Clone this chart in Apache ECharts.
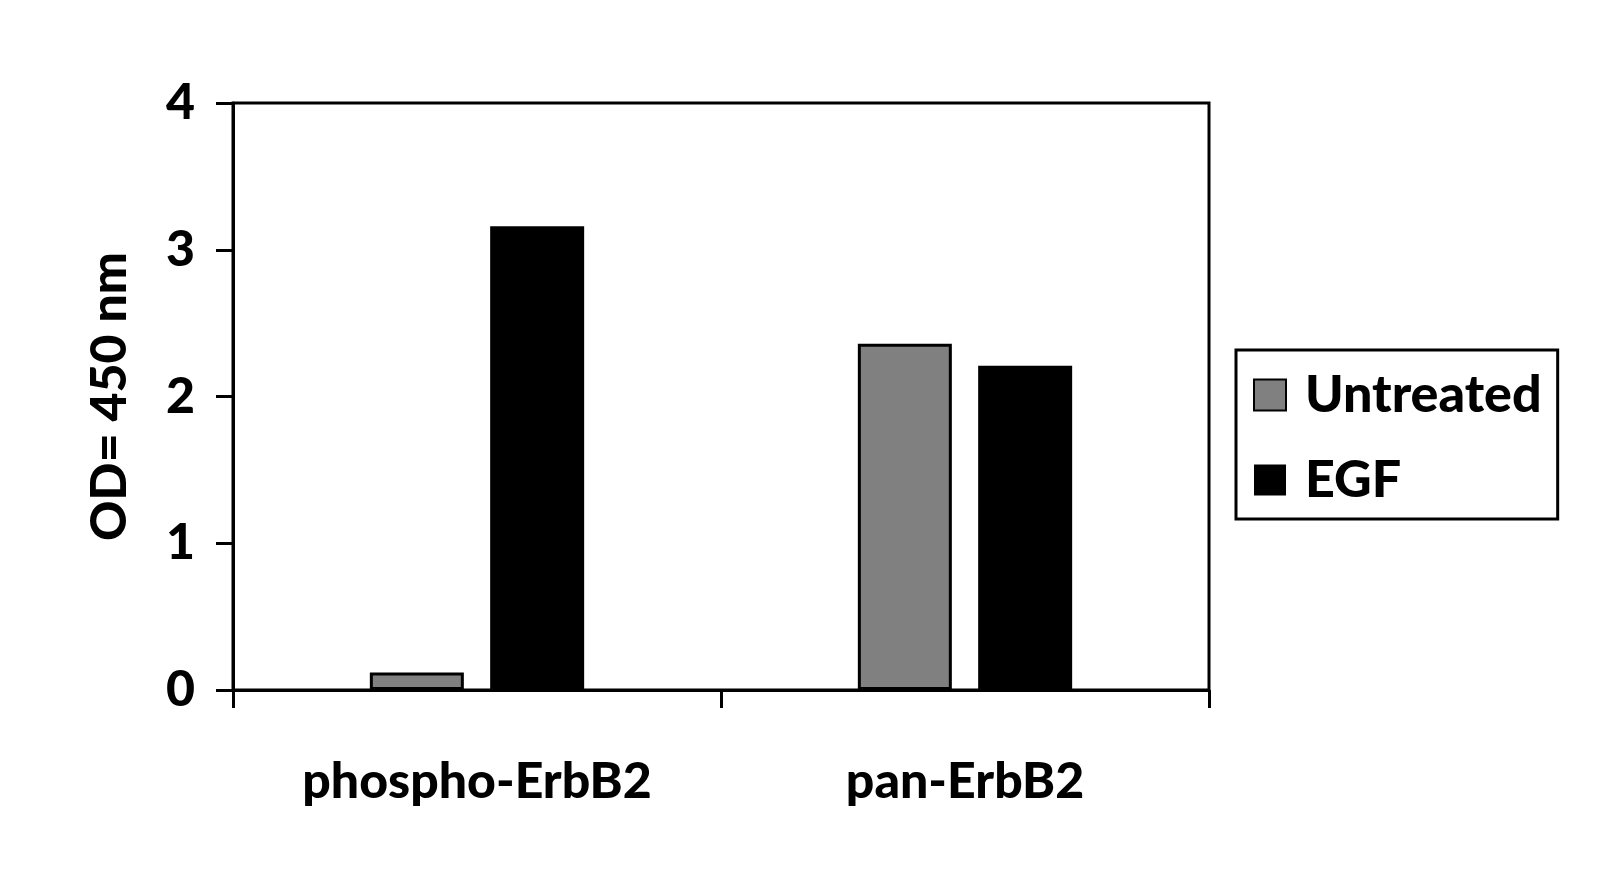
<!DOCTYPE html>
<html>
<head>
<meta charset="utf-8">
<title>ErbB2 OD 450 nm</title>
<script src="https://cdn.jsdelivr.net/npm/echarts@6.0.0/dist/echarts.min.js"></script>
<style>
    html, body { margin: 0; padding: 0; background: #fff; }
    #barCtn { width: 1601px; height: 880px; }
</style>
</head>
<body>
<div id="barCtn"></div>
<script>
"use strict";
// 数据
var categories = ['phospho-ErbB2', 'pan-ErbB2'];
var seriesNames = ['Untreated', 'EGF'];
var untreatedValues = [0.12, 2.36];
var egfValues = [3.16, 2.21];
var yTicks = [0, 1, 2, 3, 4];

var FONT = 'Lato';

function bar_chart(element) {
    var myChart = echarts.init(document.getElementById(element));
    var labelStyle = {
        color: '#000',
        fontFamily: FONT,
        fontWeight: 900,
        fontSize: 50
    };
    var option = {
        backgroundColor: '#fff',
        animation: false,
        grid: {
            left: 233,
            right: 392,
            top: 103,
            bottom: 190,
            show: true,
            borderColor: '#000',
            borderWidth: 3
        },
        legend: {
            orient: 'vertical',
            left: 1236,
            top: 350,
            align: 'left',
            icon: 'rect',
            data: seriesNames,
            itemWidth: 32,
            itemHeight: 31,
            itemGap: 33,
            padding: [19, 16, 13, 17],
            borderColor: '#000',
            borderWidth: 3,
            textStyle: {
                color: '#000',
                fontFamily: FONT,
                fontWeight: 900,
                fontSize: 52,
                lineHeight: 50,
                padding: [0, 0, 0, 14]
            }
        },
        xAxis: {
            type: 'category',
            data: categories,
            axisLine: { lineStyle: { color: '#000', width: 3 } },
            axisTick: { show: true, length: 18, lineStyle: { color: '#000', width: 3 } },
            axisLabel: Object.assign({ margin: 67 }, labelStyle)
        },
        yAxis: {
            type: 'value',
            min: yTicks[0],
            max: yTicks[yTicks.length - 1],
            interval: 1,
            name: 'OD= 450 nm',
            nameLocation: 'middle',
            nameGap: 98,
            nameTextStyle: labelStyle,
            axisLine: { show: true, lineStyle: { color: '#000', width: 3 } },
            axisTick: { show: true, length: 17, lineStyle: { color: '#000', width: 3 } },
            splitLine: { show: false },
            axisLabel: Object.assign({ margin: 38 }, labelStyle)
        },
        series: [{
            name: seriesNames[0],
            type: 'bar',
            data: untreatedValues,
            barWidth: 94,
            barGap: '28%',
            itemStyle: {
                color: '#808080',
                borderColor: '#000',
                borderWidth: 3
            }
        }, {
            name: seriesNames[1],
            type: 'bar',
            data: egfValues,
            barWidth: 94,
            barGap: '28%',
            itemStyle: {
                color: '#000'
            }
        }]
    };
    myChart.setOption(option);
}
bar_chart('barCtn');
</script>
</body>
</html>
